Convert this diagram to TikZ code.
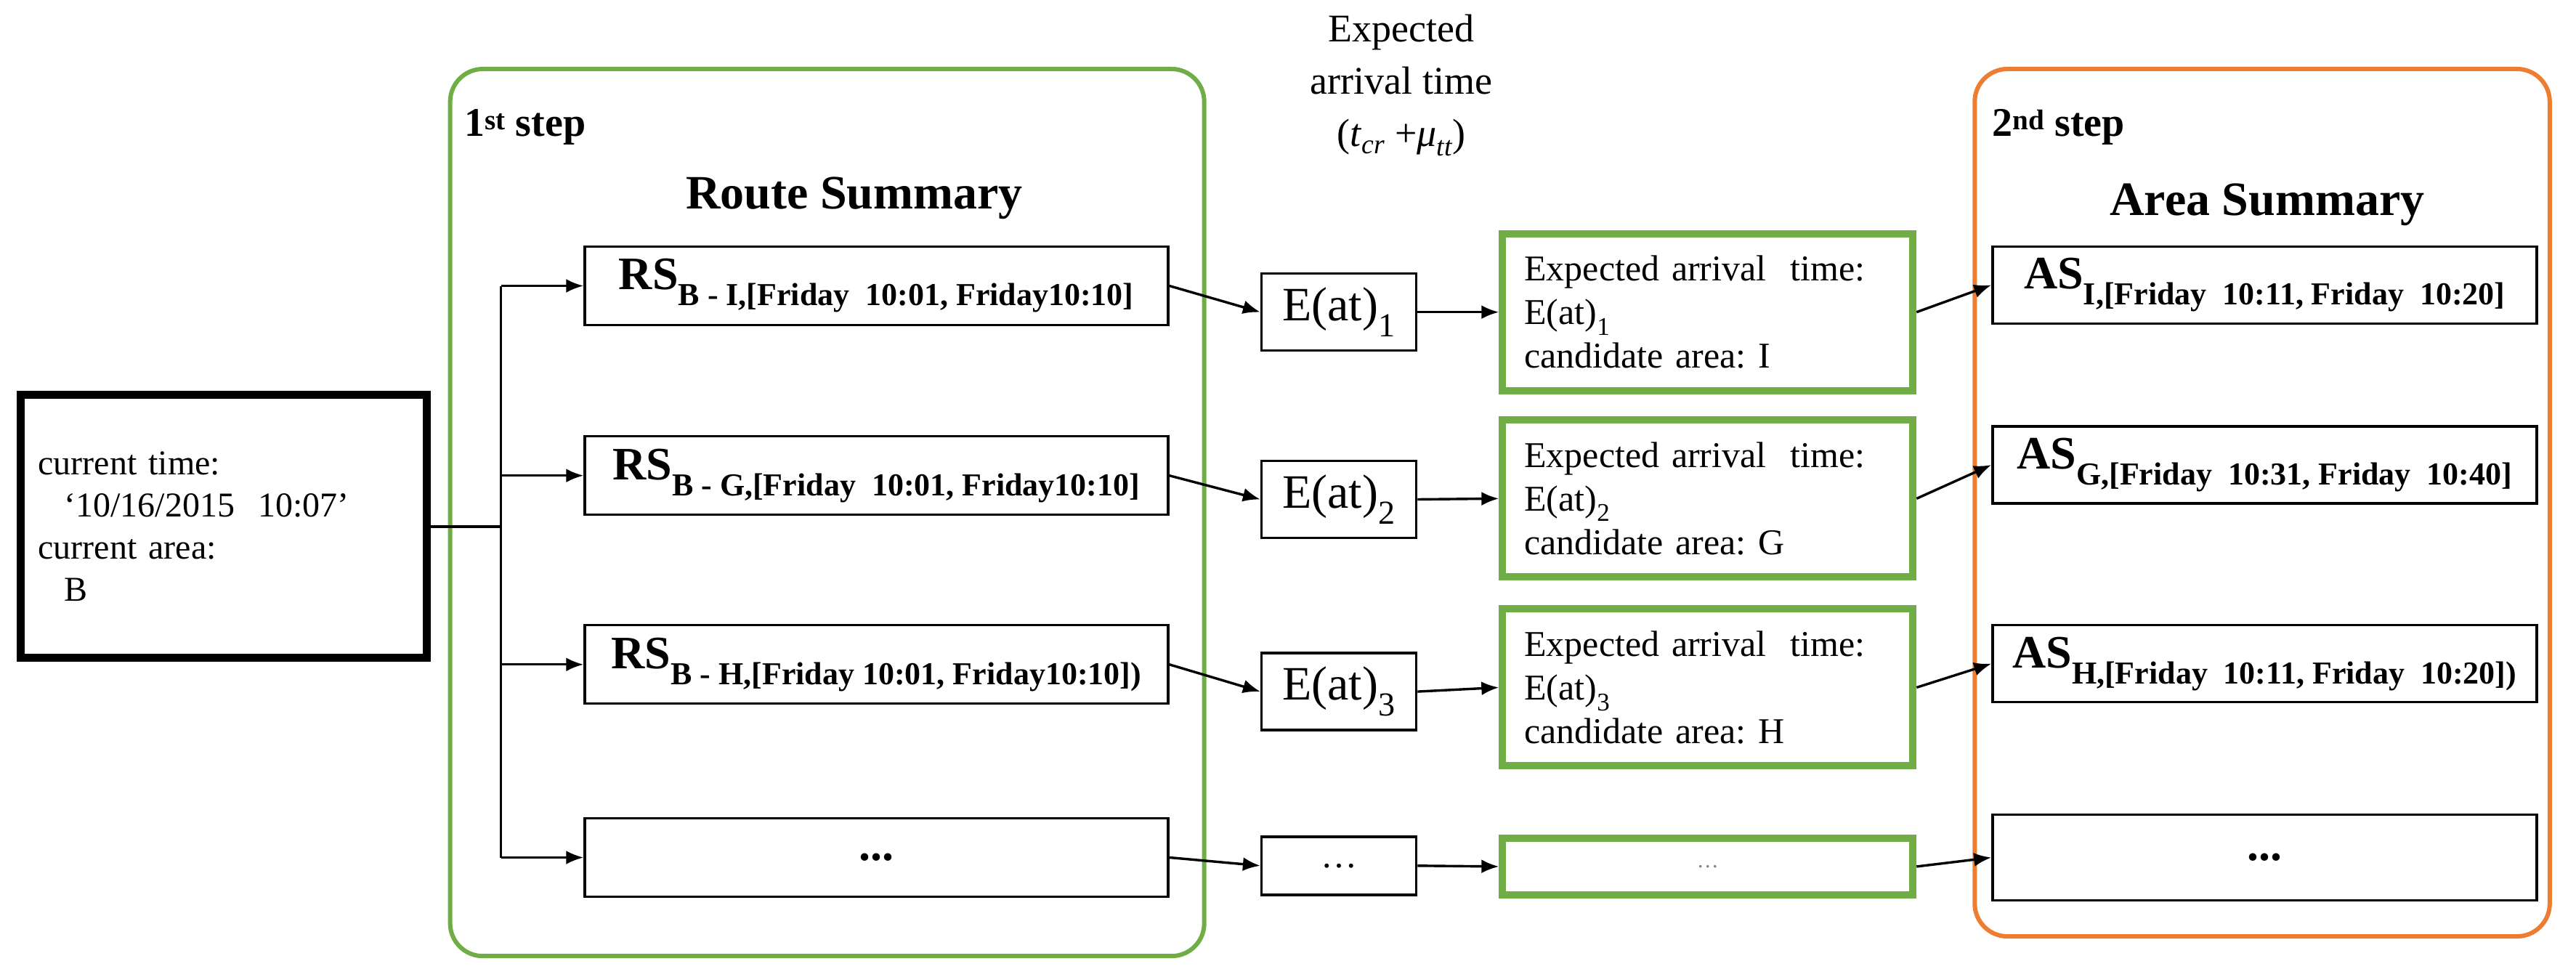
\documentclass[tikz,border=0pt]{standalone}
\usepackage{fontspec}
\setmainfont{Liberation Serif}
\usetikzlibrary{arrows.meta}
\definecolor{gr}{HTML}{70AD47}
\definecolor{org}{HTML}{ED7D31}
\begin{document}
\begin{tikzpicture}[x=2.2615pt,y=-2.2615pt,
  box/.style={draw,line width=3.4pt,inner sep=0pt},
  rs/.style={box,minimum width=803pt,minimum height=108pt,font=\fontsize{64}{70}\selectfont\bfseries},
  eb/.style={box,minimum width=213pt,minimum height=106pt,font=\fontsize{66}{72}\selectfont},
  gb/.style={draw=gr,line width=10pt,minimum width=565pt,minimum height=216pt,text width=505pt,align=left,inner xsep=30pt,font=\fontsize{50}{60}\selectfont},
  as/.style={box,minimum width=749pt,minimum height=106pt,font=\fontsize{64}{70}\selectfont\bfseries},
  arr/.style={line width=3.4pt,-{Latex[length=24pt,width=19pt]}},
  ln/.style={line width=3.4pt}]
\useasboundingbox (0,0) rectangle (1568,594.7);
% big frames
\draw[gr,line width=6pt,rounded corners=45pt] (274,42) rectangle (733,582);
\draw[org,line width=6pt,rounded corners=45pt] (1202,42) rectangle (1552,570);
\node[anchor=base west,font=\fontsize{56}{60}\selectfont\bfseries] (s1) at (281,83) {1\textsuperscript{st} step};
\node[anchor=base,font=\fontsize{66}{70}\selectfont\bfseries] (rt) at (520,127) {Route Summary};
\node[anchor=base west,font=\fontsize{56}{60}\selectfont\bfseries] (s2) at (1211,83) {2\textsuperscript{nd} step};
\node[anchor=base,font=\fontsize{66}{70}\selectfont\bfseries] (at) at (1380,131) {Area Summary};
\node[align=center,font=\fontsize{54}{72}\selectfont] (ttl) at (853,52) {Expected\\arrival time\\(\textit{t}\textsubscript{\itshape cr}\ +\textit{μ}\textsubscript{\itshape tt})};
% left box
\node[draw,line width=11pt,minimum width=559pt,minimum height=362pt,text width=510pt,align=left,inner xsep=22pt,font=\fontsize{48}{58}\selectfont] (L) at (136,320.5)
 {current time:\\\hspace*{36pt}‘10/16/2015\ \ 10:07’\\current area:\\\hspace*{36pt}B};
% RS boxes
\node[rs] (R1) at (533.5,174) {RS\textsubscript{\fontsize{44}{48}\selectfont B - I,[Friday\ \ 10:01, Friday10:10]}};
\node[rs] (R2) at (533.5,289.5) {RS\textsubscript{\fontsize{44}{48}\selectfont B - G,[Friday\ \ 10:01, Friday10:10]}};
\node[rs] (R3) at (533.5,404.5) {RS\textsubscript{\fontsize{44}{48}\selectfont B - H,[Friday 10:01, Friday10:10])}};
\node[rs] (R4) at (533.5,522) {...};
% E boxes
\node[eb] (E1) at (815,190) {E(at)\textsubscript{1}};
\node[eb] (E2) at (815,304) {E(at)\textsubscript{2}};
\node[eb] (E3) at (815,421) {E(at)\textsubscript{3}};
\node[eb,minimum height=80pt,font=\fontsize{50}{56}\selectfont] (E4) at (815,527) {\dots};
% green result boxes
\node[gb] (G1) at (1039.5,190) {Expected arrival\ \ time:\\E(at)\textsubscript{1}\\candidate area:\ I};
\node[gb] (G2) at (1039.5,303.5) {Expected arrival\ \ time:\\E(at)\textsubscript{2}\\candidate area:\ G};
\node[gb] (G3) at (1039.5,418.5) {Expected arrival\ \ time:\\E(at)\textsubscript{3}\\candidate area:\ H};
\node[draw=gr,line width=10pt,minimum width=565pt,minimum height=78pt,font=\fontsize{30}{34}\selectfont,text=gray] (G4) at (1039.5,527.5) {\dots};
% AS boxes
\node[as] (A1) at (1378.5,173.5) {AS\textsubscript{\fontsize{44}{48}\selectfont I,[Friday\ \ 10:11, Friday\ \ 10:20]}};
\node[as] (A2) at (1378.5,283) {AS\textsubscript{\fontsize{44}{48}\selectfont G,[Friday\ \ 10:31, Friday\ \ 10:40]}};
\node[as] (A3) at (1378.5,404) {AS\textsubscript{\fontsize{44}{48}\selectfont H,[Friday\ \ 10:11, Friday\ \ 10:20])}};
\node[as,minimum height=118pt] (A4) at (1378.5,522) {...};
% trunk
\coordinate (tr) at (305,320.5);
\draw[ln] (L.east) -- (tr);
\draw[ln] (tr |- R1.west) -- (tr |- R4.west);
\foreach \i in {1,2,3,4}{
  \draw[arr] (tr |- R\i.west) -- (R\i.west);
  \draw[arr] (R\i.east) -- (E\i.west);
  \draw[arr] (E\i.east) -- (G\i.west);
  \draw[arr] (G\i.east) -- (A\i.west);
}
\end{tikzpicture}
\end{document}
